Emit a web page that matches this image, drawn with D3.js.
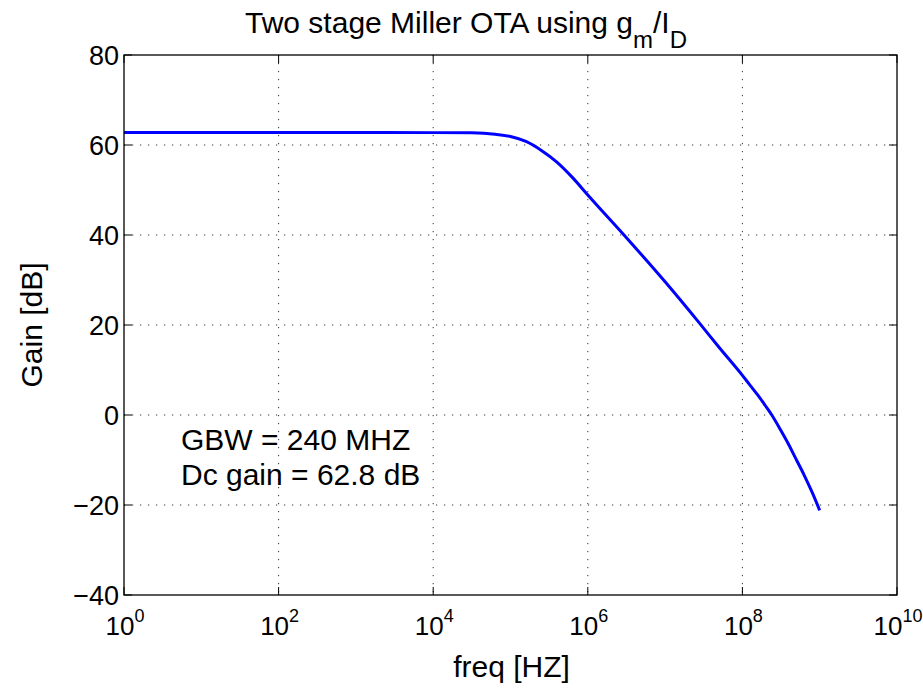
<!DOCTYPE html>
<html>
<head>
    <meta charset="utf-8">
    <title>Two stage Miller OTA</title>
    <script src="https://d3js.org/d3.v7.min.js"></script>
    <style>
        body { margin: 0; background: #fff; }
        text { font-family: "Liberation Sans", Arial, sans-serif; fill: #000; }
        .grid line { stroke: #333; stroke-width: 1; stroke-dasharray: 1.2,6.8; }
    </style>
</head>
<body>
    <div id="chart"></div>

    <script>
        // 频率（log10）与增益，读自原图
        const logFreq = [0, 1, 2, 3, 4, 4.5, 4.8, 5.0, 5.2, 5.4, 5.6, 5.8, 6.0, 6.5, 7.0, 7.45, 7.7, 8.0, 8.1, 8.2, 8.3, 8.38, 8.5, 8.6, 8.7, 8.8, 8.9, 9.0];
        const gainDb  = [62.8, 62.8, 62.8, 62.8, 62.75, 62.7, 62.4, 61.9, 60.8, 58.8, 56.2, 52.8, 48.9, 39.4, 29.6, 20.3, 15.0, 8.8, 6.6, 4.4, 2.0, 0, -3.5, -6.6, -10.0, -13.4, -17.1, -21.2];

        const xTickExp = [0, 2, 4, 6, 8, 10];
        const yTicks = [-40, -20, 0, 20, 40, 60, 80];
        const notes = ["GBW = 240 MHZ", "Dc gain = 62.8 dB"];

        const W = 923, H = 689;
        const margin = {top: 55, right: 26, bottom: 94, left: 124};
        const width = W - margin.left - margin.right;
        const height = H - margin.top - margin.bottom;

        const svg = d3.select("#chart").append("svg")
            .attr("width", W).attr("height", H);
        const g = svg.append("g")
            .attr("transform", `translate(${margin.left},${margin.top})`);

        const x = d3.scaleLog().domain([1, 1e10]).range([0, width]);
        const y = d3.scaleLinear().domain([-40, 80]).range([height, 0]);

        // 网格
        const grid = g.append("g").attr("class", "grid");
        grid.selectAll(".gx").data(xTickExp.slice(1, -1)).enter().append("line")
            .attr("x1", d => x(Math.pow(10, d))).attr("x2", d => x(Math.pow(10, d)))
            .attr("y1", 0).attr("y2", height);
        grid.selectAll(".gy").data(yTicks.slice(1, -1)).enter().append("line")
            .attr("y1", d => y(d)).attr("y2", d => y(d))
            .attr("x1", 0).attr("x2", width);

        // 曲线
        const data = logFreq.map((lf, i) => ({f: Math.pow(10, lf), g: gainDb[i]}));
        const line = d3.line()
            .x(d => x(d.f)).y(d => y(d.g))
            .curve(d3.curveMonotoneX);
        g.append("path").datum(data)
            .attr("d", line)
            .attr("fill", "none")
            .attr("stroke", "#0000ff")
            .attr("stroke-width", 3);

        // 边框
        g.append("rect").attr("width", width).attr("height", height)
            .attr("fill", "none").attr("stroke", "#000").attr("stroke-width", 1.3);

        // 刻度（向内）
        const tl = 8;
        const xt = g.append("g");
        xTickExp.forEach(e => {
            const px = x(Math.pow(10, e));
            xt.append("line").attr("x1", px).attr("x2", px).attr("y1", height).attr("y2", height - tl)
                .attr("stroke", "#000");
            xt.append("line").attr("x1", px).attr("x2", px).attr("y1", 0).attr("y2", tl)
                .attr("stroke", "#000");
            const t = xt.append("text")
                .attr("x", px + 1).attr("y", height + 40)
                .attr("text-anchor", "middle")
                .style("font-size", "26px");
            t.append("tspan").text("10");
            t.append("tspan").attr("dy", -13).style("font-size", "18px").text(e);
        });

        const yt = g.append("g");
        yTicks.forEach(v => {
            const py = y(v);
            yt.append("line").attr("x1", 0).attr("x2", tl).attr("y1", py).attr("y2", py).attr("stroke", "#000");
            yt.append("line").attr("x1", width).attr("x2", width - tl).attr("y1", py).attr("y2", py).attr("stroke", "#000");
            yt.append("text")
                .attr("x", -5).attr("y", py + 10)
                .attr("text-anchor", "end")
                .style("font-size", "27px")
                .text(v < 0 ? "\u2212" + Math.abs(v) : v);
        });

        // 标题
        const title = svg.append("text")
            .attr("x", 466).attr("y", 33)
            .attr("text-anchor", "middle")
            .style("font-size", "30px");
        title.append("tspan").text("Two stage Miller OTA using g");
        title.append("tspan").attr("dy", 15).style("font-size", "24px").text("m");
        title.append("tspan").attr("dy", -15).text("/I");
        title.append("tspan").attr("dy", 15).style("font-size", "24px").text("D");

        // 轴标签
        svg.append("text")
            .attr("x", margin.left + width / 2 + 1).attr("y", 677)
            .attr("text-anchor", "middle")
            .style("font-size", "30px")
            .text("freq [HZ]");
        svg.append("text")
            .attr("transform", `translate(42,${margin.top + height / 2}) rotate(-90)`)
            .attr("text-anchor", "middle")
            .style("font-size", "30px")
            .text("Gain [dB]");

        // 注释
        notes.forEach((s, i) => {
            svg.append("text")
                .attr("x", 181).attr("y", 450 + i * 35)
                .style("font-size", "30px")
                .text(s);
        });
    </script>
</body>
</html>
